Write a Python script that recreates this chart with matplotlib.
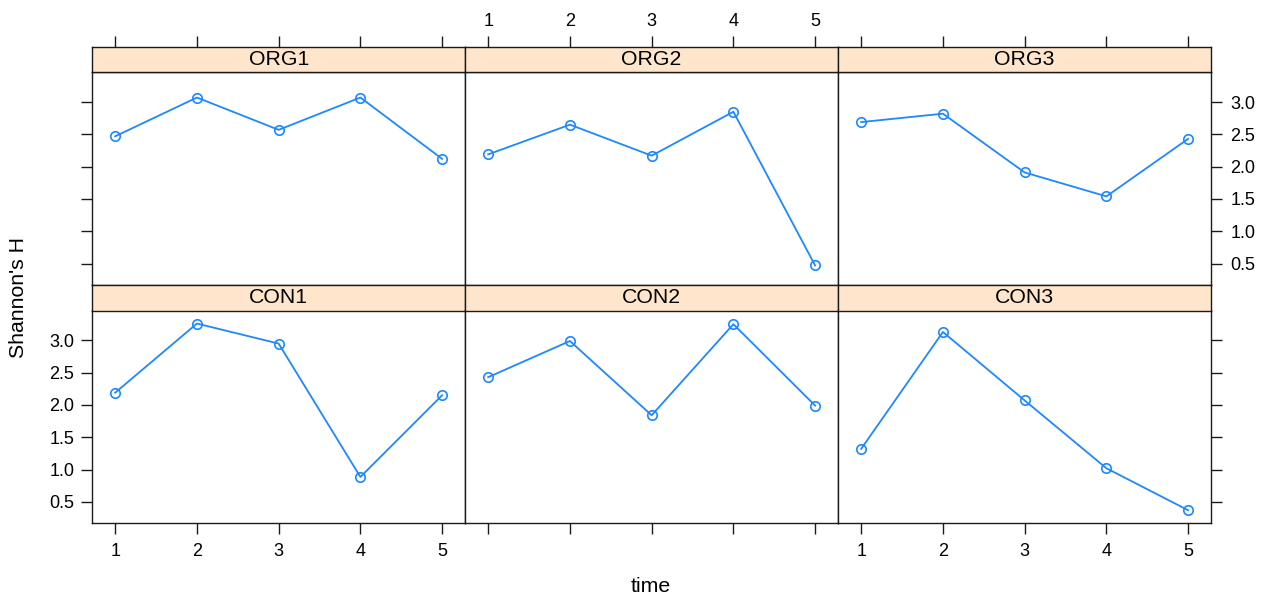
import numpy as np
import matplotlib
matplotlib.use("Agg")
import matplotlib.pyplot as plt

plt.rcParams['font.family'] = ['Liberation Sans', 'DejaVu Sans']

# Shannon's H per site over time
time = [1, 2, 3, 4, 5]
org1 = [2.47, 3.07, 2.57, 3.07, 2.12]
org2 = [2.19, 2.65, 2.17, 2.85, 0.47]
org3 = [2.69, 2.82, 1.91, 1.54, 2.43]
con1 = [2.19, 3.26, 2.95, 0.885, 2.15]
con2 = [2.43, 2.99, 1.84, 3.25, 1.99]
con3 = [1.32, 3.13, 2.07, 1.02, 0.37]

panels = [["ORG1", "ORG2", "ORG3"], ["CON1", "CON2", "CON3"]]
values = {"ORG1": org1, "ORG2": org2, "ORG3": org3,
          "CON1": con1, "CON2": con2, "CON3": con3}
yticks = [0.5, 1.0, 1.5, 2.0, 2.5, 3.0]

# lattice style limits: extend data range by 7%
allv = np.concatenate([org1, org2, org3, con1, con2, con3])
pad = 0.07 * (allv.max() - allv.min())
ylim = (allv.min() - pad, allv.max() + pad)
xpad = 0.07 * (max(time) - min(time))
xlim = (min(time) - xpad, max(time) + xpad)

W, H = 1261, 598
fig = plt.figure(figsize=(W / 100, H / 100), dpi=100)

col_x = [92.3, 465.3, 838.3]
col_w = 372.7
strip_h = 25.5
row_top = [46.7, 285.0]     # strip top (px)
panel_h = 212.8

line_col = '#1e88ff'
strip_col = '#ffe5cc'
edge = '#1a1a1a'
tl = 8
tick_fs = 13
lab_fs = 15.3

for r in range(2):
    for c in range(3):
        name = panels[r][c]
        x0 = col_x[c]
        st = row_top[r]
        pt = st + strip_h
        ax = fig.add_axes([x0 / W, 1 - (pt + panel_h) / H, col_w / W, panel_h / H])
        sax = fig.add_axes([x0 / W, 1 - pt / H, col_w / W, strip_h / H])

        ax.plot(time, values[name], color=line_col, lw=1.3, marker='o',
                ms=6.8, mfc='none', mec=line_col, mew=1.2)
        ax.set_xlim(*xlim)
        ax.set_ylim(*ylim)
        ax.set_xticks(time)
        ax.set_yticks(yticks)
        ax.set_yticklabels([f"{v:.1f}" for v in yticks])
        for s in ax.spines.values():
            s.set_color(edge)
            s.set_linewidth(1.0)

        ax.tick_params(length=tl, width=1.0, color=edge, labelsize=tick_fs,
                       pad=5, top=False, bottom=False, left=False, right=False,
                       labeltop=False, labelbottom=False, labelleft=False,
                       labelright=False)
        ax.tick_params(axis='x', pad=6)

        # x axis ticks
        if r == 1:
            ax.tick_params(axis='x', bottom=True, labelbottom=(c != 1))
        # y axis ticks
        if c == 0:
            ax.tick_params(axis='y', left=True, labelleft=(r == 1))
        if c == 2:
            ax.tick_params(axis='y', right=True, labelright=(r == 0), pad=6)

        # strip
        sax.set_facecolor(strip_col)
        sax.set_xlim(*xlim)
        sax.set_ylim(0, 1)
        sax.set_yticks([])
        for s in sax.spines.values():
            s.set_color(edge)
            s.set_linewidth(1.0)
        sax.text(0.5, 0.5, name, transform=sax.transAxes, ha='center',
                 va='center', fontsize=lab_fs, color='black')
        if r == 0:
            sax.set_xticks(time)
            sax.tick_params(axis='x', top=True, bottom=False, labelbottom=False,
                            labeltop=(c == 1), length=tl, width=1.0, color=edge,
                            labelsize=tick_fs, pad=4)
        else:
            sax.set_xticks([])

fig.text(651 / W, 1 - 587 / H, "time", ha='center', va='center', fontsize=lab_fs)
fig.text(19 / W, 1 - 298 / H, "Shannon's H", ha='center', va='center',
         rotation=90, fontsize=lab_fs)

fig.savefig("out.png", dpi=100)
